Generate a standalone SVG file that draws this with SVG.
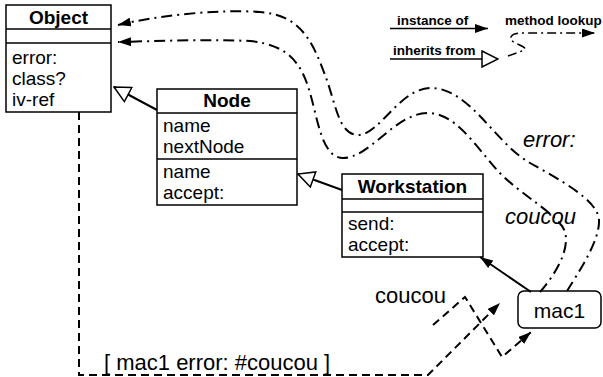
<svg xmlns="http://www.w3.org/2000/svg" width="603" height="377" viewBox="0 0 603 377">
<defs>
<style>
.box{fill:#fff;stroke:#000;stroke-width:1.5}
.sep{stroke:#000;stroke-width:1.5}
.t{font-family:"Liberation Sans",Arial,Helvetica,sans-serif;font-size:19px;fill:#000}
.b{font-weight:bold}
.c{text-anchor:middle}
.lg{font-family:"Liberation Sans",Arial,Helvetica,sans-serif;font-size:13.5px;font-weight:bold;fill:#000}
.big{font-family:"Liberation Sans",Arial,Helvetica,sans-serif;font-size:22px;fill:#000}
.it{font-style:italic}
.lookup{fill:none;stroke:#000;stroke-width:2;stroke-dasharray:11 5 2 5;marker-end:url(#arr)}
.msg{fill:none;stroke:#000;stroke-width:2;stroke-dasharray:8 5}
.inh{fill:none;stroke:#000;stroke-width:2;marker-end:url(#tri)}
.inst{fill:none;stroke:#000;stroke-width:2;marker-end:url(#arr)}
</style>
<marker id="arr" viewBox="0 0 13 9" refX="13" refY="4.5" markerWidth="13" markerHeight="9" markerUnits="userSpaceOnUse" orient="auto">
<path d="M0,0 L13,4.5 L0,9 Z" fill="#000"/>
</marker>
<marker id="tri" viewBox="0 0 18 18" refX="17" refY="9" markerWidth="18" markerHeight="18" markerUnits="userSpaceOnUse" orient="auto">
<path d="M1,1 L17,9 L1,17 Z" fill="#fff" stroke="#000" stroke-width="1.5"/>
</marker>
</defs>

<g id="Object">
<rect class="box" x="6" y="5" width="105" height="107"/>
<line class="sep" x1="6" y1="29" x2="111" y2="29"/>
<line class="sep" x1="6" y1="43" x2="111" y2="43"/>
<text class="t b c" x="58.5" y="24">Object</text>
<text class="t" x="12" y="64">error:</text>
<text class="t" x="12" y="85">class?</text>
<text class="t" x="12" y="106">iv-ref</text>
</g>

<g id="Node">
<rect class="box" x="157" y="89" width="140" height="116"/>
<line class="sep" x1="157" y1="113" x2="297" y2="113"/>
<line class="sep" x1="157" y1="159" x2="297" y2="159"/>
<text class="t b c" x="227" y="107">Node</text>
<text class="t" x="163" y="132">name</text>
<text class="t" x="163" y="153">nextNode</text>
<text class="t" x="163" y="178">name</text>
<text class="t" x="163" y="199">accept:</text>
</g>

<g id="Workstation">
<rect class="box" x="342" y="174" width="141" height="83"/>
<line class="sep" x1="342" y1="199" x2="483" y2="199"/>
<line class="sep" x1="342" y1="212" x2="483" y2="212"/>
<text class="t b c" x="412.5" y="193">Workstation</text>
<text class="t" x="348" y="230">send:</text>
<text class="t" x="348" y="251">accept:</text>
</g>

<g id="mac1">
<rect class="box" x="518" y="291" width="83" height="37" rx="6"/>
<text class="t c" x="559.5" y="318" style="font-size:21px">mac1</text>
</g>

<g id="legend">
<text class="lg" x="397" y="25">instance of</text>
<line class="inst" x1="390" y1="28.5" x2="488" y2="28.5" style="stroke-width:1.5"/>
<text class="lg" x="393" y="55">inherits from</text>
<line class="inh" x1="390" y1="59" x2="498" y2="59" style="stroke-width:1.5"/>
<text class="lg" x="505" y="25">method lookup</text>
<path class="lookup" d="M508,56 L522,51 C534,47 506,43 511,37 C513,33 518,33 526,33 L595,33" style="stroke-width:1.5;stroke-dasharray:9 4 2 4"/>
</g>

<g id="connectors">
<line class="inh" x1="157" y1="110" x2="114" y2="87"/>
<line class="inh" x1="342" y1="190" x2="298" y2="174"/>
<line class="inst" x1="531" y1="292" x2="480" y2="257"/>
<path class="lookup" d="M567,291 C580,270 600,240 599,220 C598,200 560,180 530,163 C495,143 470,89 432,88 C400,87 380,135 358,135 C338,135 335,100 325,75 C312,40 300,15 260,12 C220,9 160,15 118,25"/>
<path class="lookup" d="M540,292 C555,275 570,250 565,232 C560,215 520,195 497,170 C475,145 455,113 428,113 C395,113 370,158 343,158 C322,158 318,120 310,93 C302,65 290,45 250,41 C210,39 160,41 118,42"/>
<path class="msg" d="M79,112 V375 H428 L500,303" marker-end="url(#arr)"/>
<path class="msg" d="M433,325 L465,297 L502,357 L531,332" marker-end="url(#arr)"/>
</g>

<g id="labels">
<text class="big it" x="523" y="147">error:</text>
<text class="big it" x="505" y="224">coucou</text>
<text class="big" x="375" y="303">coucou</text>
<text class="big" x="104" y="370">[ mac1 error: #coucou ]</text>
</g>
</svg>
